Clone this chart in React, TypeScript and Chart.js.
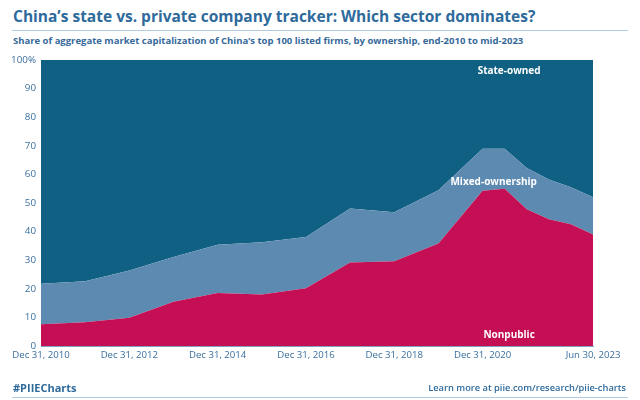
import React, { useEffect, useRef } from "react";
import { Chart, registerables } from "chart.js";

Chart.register(...registerables);

// Dates as decimal years (Dec 31 of year Y => Y+1)
const dates: number[] = [2011, 2012, 2013, 2014, 2015, 2016, 2017, 2018, 2019, 2020, 2021, 2021.5, 2022, 2022.5, 2023, 2023.5];
const nonpublic: number[] = [7.6, 8.3, 9.9, 15.5, 18.5, 18.0, 20.2, 29.2, 29.6, 35.8, 54.3, 55.0, 47.8, 44.3, 42.6, 39.0];
const mixedOwnership: number[] = [14.2, 14.3, 16.5, 15.6, 16.9, 18.3, 17.9, 18.9, 17.2, 18.7, 14.7, 14.0, 14.4, 13.9, 12.9, 13.0];
const tickValues: number[] = [2011, 2013, 2015, 2017, 2019, 2021, 2023.5];
const tickLabels: string[] = ["Dec 31, 2010", "Dec 31, 2012", "Dec 31, 2014", "Dec 31, 2016", "Dec 31, 2018", "Dec 31, 2020", "Jun 30, 2023"];

const FONT = "'Open Sans', 'DejaVu Sans', sans-serif";
const C_STATE = "#0f6082";
const C_MIXED = "#5d8ab1";
const C_NONPUB = "#c40f54";
const C_TEXT = "#3a6f9e";

const labelPlugin = {
  id: "areaLabels",
  afterDatasetsDraw(chart: any) {
    const { ctx, scales } = chart;
    const xs = scales.x, ys = scales.y;
    const items = [
      { t: "State-owned", x: 2021.6, y: 96 },
      { t: "Mixed-ownership", x: 2021.25, y: 57.2 },
      { t: "Nonpublic", x: 2021.6, y: 3.9 },
    ];
    ctx.save();
    ctx.fillStyle = "#ffffff";
    ctx.font = `bold 10px ${FONT}`;
    ctx.textAlign = "center";
    ctx.textBaseline = "middle";
    for (const it of items) {
      ctx.fillText(it.t, xs.getPixelForValue(it.x), ys.getPixelForValue(it.y));
    }
    ctx.restore();
  },
};

export default function App() {
  const ref = useRef<HTMLCanvasElement>(null);
  useEffect(() => {
    if (!ref.current) return;
    const top = nonpublic.map((v, i) => v + mixedOwnership[i]);
    const chart = new Chart(ref.current, {
      type: "line",
      data: {
        datasets: [
          {
            label: "Nonpublic",
            data: dates.map((d, i) => ({ x: d, y: nonpublic[i] })),
            backgroundColor: C_NONPUB,
            borderWidth: 0,
            pointRadius: 0,
            fill: "origin",
          },
          {
            label: "Mixed-ownership",
            data: dates.map((d, i) => ({ x: d, y: top[i] })),
            backgroundColor: C_MIXED,
            borderWidth: 0,
            pointRadius: 0,
            fill: "-1",
          },
          {
            label: "State-owned",
            data: dates.map((d) => ({ x: d, y: 100 })),
            backgroundColor: C_STATE,
            borderWidth: 0,
            pointRadius: 0,
            fill: "-1",
          },
        ],
      },
      options: {
        animation: false,
        responsive: false,
        devicePixelRatio: 1,
        layout: { padding: { top: 60, right: 47, bottom: 0, left: 0 } },
        plugins: { legend: { display: false }, tooltip: { enabled: false } },
        scales: {
          x: {
            type: "linear",
            min: 2011,
            max: 2023.5,
            grid: { display: false, drawTicks: false },
            border: { display: true, color: "#7fa2c2", width: 1 },
            afterBuildTicks: (s: any) => {
              s.ticks = tickValues.map((v) => ({ value: v }));
            },
            afterFit: (s: any) => {
              s.height = 54;
            },
            ticks: {
              autoSkip: false,
              maxRotation: 0,
              padding: 4,
              color: C_TEXT,
              font: { family: FONT, size: 9.6 },
              callback: (v: any) => {
                const i = tickValues.indexOf(Number(v));
                return i >= 0 ? tickLabels[i] : "";
              },
            },
          },
          y: {
            min: 0,
            max: 100,
            grid: { display: false, drawTicks: false },
            border: { display: true, color: "#7fa2c2", width: 1 },
            afterFit: (s: any) => {
              s.width = 41;
            },
            ticks: {
              stepSize: 10,
              padding: 5,
              color: C_TEXT,
              font: { family: FONT, size: 9.8 },
              callback: (v: any) => (Number(v) === 100 ? "100%" : String(v)),
            },
          },
        },
      },
      plugins: [labelPlugin],
    });
    return () => chart.destroy();
  }, []);

  return (
    <div style={{ position: "absolute", left: 0, top: 0, width: 640, height: 400, background: "#fff", fontFamily: FONT, overflow: "hidden" }}>
      <div style={{ position: "absolute", left: 13, top: 8.5, fontSize: 15.5, lineHeight: "15.5px", fontWeight: 700, color: "#2e6a9b", whiteSpace: "nowrap" }}>
        China’s state vs. private company tracker: Which sector dominates?
      </div>
      <div style={{ position: "absolute", left: 12, top: 30, width: 616, height: 1, background: "#b3cbe0" }} />
      <div style={{ position: "absolute", left: 13, top: 36, fontSize: 9.5, lineHeight: "9.5px", fontWeight: 700, color: "#36699a", whiteSpace: "nowrap" }}>
        Share of aggregate market capitalization of China’s top 100 listed firms, by ownership, end-2010 to mid-2023
      </div>
      <canvas ref={ref} width={640} height={400} style={{ position: "absolute", left: 0, top: 0, width: 640, height: 400 }} />
      <div style={{ position: "absolute", left: 13, top: 380, fontSize: 11, fontWeight: 700, color: "#2e6a9b", whiteSpace: "nowrap" }}>
        #PIIECharts
      </div>
      <div style={{ position: "absolute", right: 14, top: 381, fontSize: 9.3, fontWeight: 600, color: "#2e6a9b", whiteSpace: "nowrap" }}>
        Learn more at piie.com/research/piie-charts
      </div>
      <div style={{ position: "absolute", left: 12, top: 397, width: 616, height: 1, background: "#b3cbe0" }} />
    </div>
  );
}
